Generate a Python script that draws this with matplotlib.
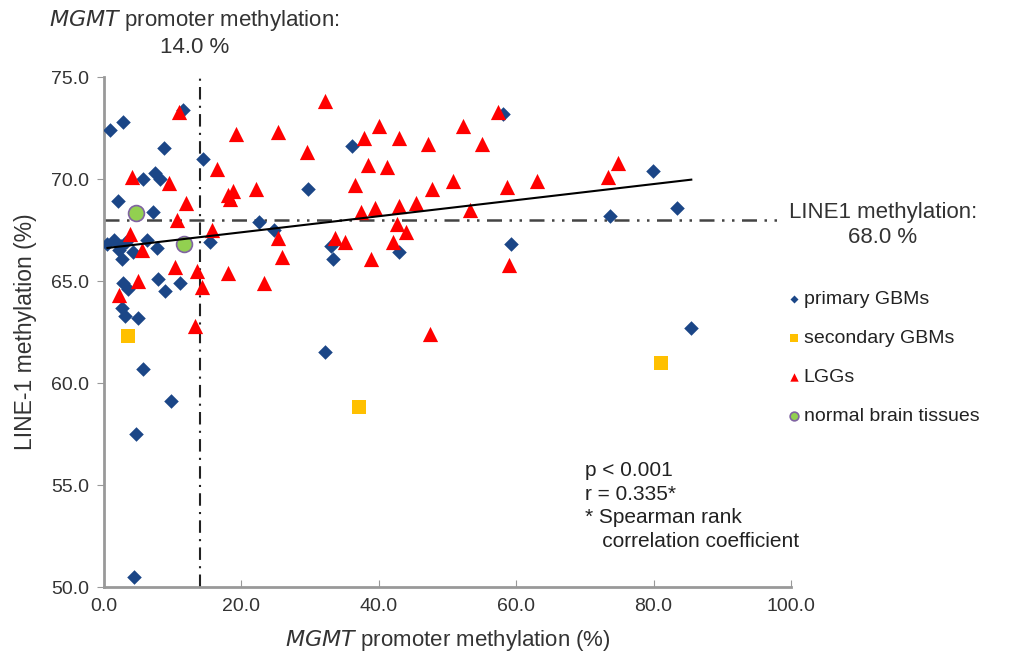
import numpy as np
import matplotlib
matplotlib.use("Agg")
import matplotlib.pyplot as plt

plt.rcParams['font.family'] = ['Liberation Sans', 'DejaVu Sans']

# primary GBMs (x = MGMT %, y = LINE-1 %)
prim_x = [0.9, 2.7, 11.5, 8.7, 14.4, 5.6, 7.4, 8.2, 2.0, 7.1, 0.5, 1.5, 2.5, 3.2, 2.2,
          6.2, 7.7, 15.4, 2.6, 4.2, 7.9, 11.1, 8.9, 2.8, 3.5, 2.6, 3.1, 5.0,
          5.6, 9.7, 4.6, 4.4, 36.1, 29.7, 22.5, 24.7, 33.1, 33.3, 43.0, 32.1,
          58.1, 79.9, 73.7, 83.4, 59.2, 85.5]
prim_y = [72.4, 72.8, 73.4, 71.5, 71.0, 70.0, 70.3, 70.0, 68.9, 68.4, 66.8, 67.0, 66.7, 66.9, 66.5,
          67.0, 66.6, 66.9, 66.1, 66.4, 65.1, 64.9, 64.5, 64.9, 64.6, 63.7, 63.3, 63.2,
          60.7, 59.1, 57.5, 50.5, 71.6, 69.5, 67.9, 67.5, 66.7, 66.1, 66.4, 61.5,
          73.2, 70.4, 68.2, 68.6, 66.8, 62.7]

# secondary GBMs
sec_x = [3.5, 37.1, 81.1]
sec_y = [62.3, 58.8, 61.0]

# LGGs
lgg_x = [10.9, 4.1, 9.5, 16.4, 12.0, 10.6, 3.8, 5.5, 10.3, 13.5, 14.3, 4.9, 2.2, 15.7, 13.2,
         32.1, 19.2, 25.3, 40.1, 37.8, 43.0, 47.2, 29.5, 38.4, 41.2, 36.5, 47.8, 22.1,
         18.1, 18.8, 18.3, 37.4, 39.4, 43.0, 45.4, 42.7, 44.0, 42.1, 25.4, 25.9, 33.6,
         35.1, 38.9, 18.0, 23.3, 47.4, 57.4, 52.2, 55.0, 74.9, 73.4, 50.8, 58.6, 63.0,
         53.3, 59.0]
lgg_y = [73.3, 70.1, 69.8, 70.5, 68.8, 68.0, 67.3, 66.5, 65.7, 65.5, 64.7, 65.0, 64.3, 67.5, 62.8,
         73.8, 72.2, 72.3, 72.6, 72.0, 72.0, 71.7, 71.3, 70.7, 70.6, 69.7, 69.5, 69.5,
         69.2, 69.4, 69.0, 68.4, 68.6, 68.7, 68.8, 67.8, 67.4, 66.9, 67.1, 66.2, 67.1,
         66.9, 66.1, 65.4, 64.9, 62.4, 73.3, 72.6, 71.7, 70.8, 70.1, 69.9, 69.6, 69.9,
         68.5, 65.8]

# normal brain tissues
norm_x = [4.7, 11.7]
norm_y = [68.35, 66.8]

mgmt_cut = 14.0
line1_cut = 68.0

# trend line coefficients (linear)
trend_slope = 0.0394
trend_icpt = 66.6
trend_range = [0.5, 85.5]

fig = plt.figure(figsize=(10.23, 6.57), dpi=100)
ax = fig.add_axes([0.1017, 0.1065, 0.6714, 0.7763])

blue = '#1B4687'
ax.scatter(prim_x, prim_y, marker='D', s=55, color=blue, zorder=3, label='primary GBMs', linewidths=0)
ax.scatter(sec_x, sec_y, marker='s', s=110, color='#FFC000', zorder=3, label='secondary GBMs', linewidths=0)
ax.scatter(lgg_x, lgg_y, marker='^', s=120, color='#FF0000', zorder=3, label='LGGs', linewidths=0)
ax.scatter(norm_x, norm_y, marker='o', s=130, color='#92D050', edgecolors='#8064A2',
           linewidths=1.2, zorder=4, label='normal brain tissues')

tx = np.array(trend_range)
ax.plot(tx, trend_slope * tx + trend_icpt, color='black', lw=1.5, zorder=5)

ax.plot([mgmt_cut, mgmt_cut], [50, 75], color='#222222', lw=1.5, ls=(0, (6, 3, 1, 3)), zorder=2)
ax.plot([0, 98.5], [line1_cut, line1_cut], color='#444444', lw=1.8, ls=(0, (6, 3, 1, 3, 1, 3)),
        zorder=2, clip_on=False)

ax.set_xlim(0, 100)
ax.set_ylim(50, 75)
ax.set_xticks(np.arange(0, 101, 20))
ax.set_yticks(np.arange(50, 76, 5))
ax.set_xticklabels([f'{v:.1f}' for v in np.arange(0, 101, 20)])
ax.set_yticklabels([f'{v:.1f}' for v in np.arange(50, 76, 5)])
ax.tick_params(axis='x', direction='in', length=5, color='#999999', labelsize=14, labelcolor='#333333', pad=8)
ax.tick_params(axis='y', direction='out', length=5, color='#999999', labelsize=14, labelcolor='#333333', pad=6)
for s in ['top', 'right']:
    ax.spines[s].set_visible(False)
for s in ['left', 'bottom']:
    ax.spines[s].set_color('#999999')
    ax.spines[s].set_linewidth(2)

ax.set_xlabel('$\\it{MGMT}$ promoter methylation (%)', fontsize=16, color='#333333', labelpad=9)
ax.set_ylabel('LINE-1 methylation (%)', fontsize=16.5, color='#333333', labelpad=10)

fig.text(0.19, 0.988, '$\\it{MGMT}$ promoter methylation:\n14.0 %', ha='center', va='top',
         fontsize=16, color='#333333', linespacing=1.25)
fig.text(0.863, 0.692, 'LINE1 methylation:\n68.0 %', ha='center', va='top',
         fontsize=16, color='#333333', linespacing=1.25)
fig.text(0.572, 0.298, 'p < 0.001\nr = 0.335*\n* Spearman rank\n   correlation coefficient',
         ha='left', va='top', fontsize=15, color='#222222', linespacing=1.3)

ax.legend(loc='upper left', bbox_to_anchor=(0.965, 0.615), frameon=False, fontsize=14,
          handletextpad=0.0, labelspacing=1.1, markerscale=0.55, handlelength=1.0,
          labelcolor='#222222')

fig.savefig('out.png', dpi=100)
